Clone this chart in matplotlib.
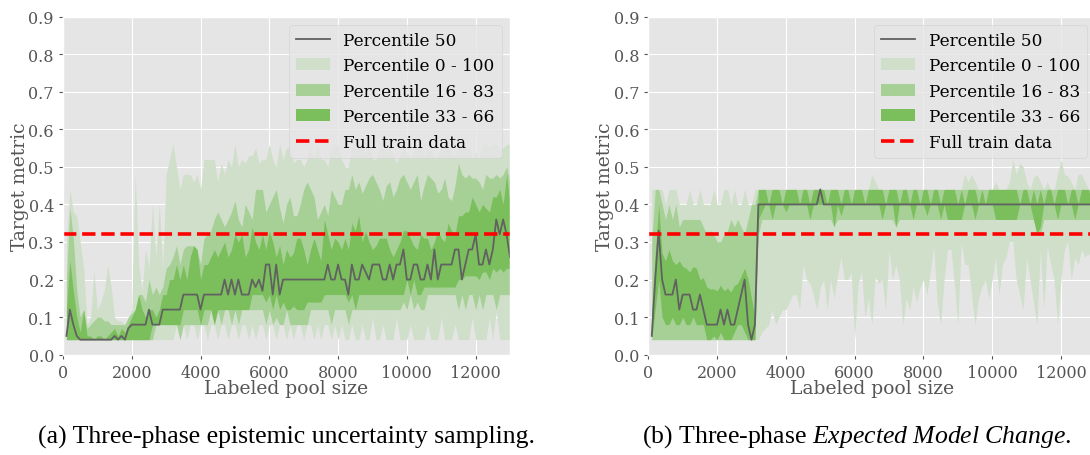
import numpy as np
import matplotlib
matplotlib.use("Agg")
import matplotlib.pyplot as plt

# ---------------- data ----------------
pool_size = np.arange(100, 13001, 100)
train_full = 0.32

# panel (a) three-phase epistemic uncertainty sampling
a_p50 = [0.05,0.12,0.08,0.05,0.04,0.04,0.04,0.04,0.04,0.04,
         0.04,0.04,0.04,0.04,0.05,0.04,0.05,0.04,0.07,0.08,
         0.08,0.08,0.08,0.08,0.12,0.08,0.08,0.08,0.12,0.12,
         0.12,0.12,0.12,0.12,0.16,0.16,0.16,0.16,0.16,0.12,
         0.16,0.16,0.16,0.16,0.16,0.16,0.20,0.16,0.20,0.16,
         0.20,0.16,0.16,0.16,0.20,0.18,0.20,0.17,0.24,0.24,
         0.16,0.24,0.16,0.20,0.20,0.20,0.20,0.20,0.20,0.20,
         0.20,0.20,0.20,0.20,0.20,0.20,0.24,0.20,0.20,0.24,
         0.20,0.20,0.16,0.24,0.20,0.20,0.24,0.22,0.20,0.24,
         0.24,0.24,0.20,0.20,0.24,0.20,0.24,0.24,0.28,0.20,
         0.20,0.24,0.24,0.20,0.20,0.24,0.20,0.28,0.20,0.24,
         0.24,0.24,0.24,0.28,0.28,0.20,0.24,0.28,0.28,0.32,
         0.24,0.24,0.28,0.24,0.28,0.36,0.32,0.36,0.32,0.26]
a_p0 = [0.04,0.04,0.04,0.04,0.04,0.04,0.04,0.04,0.04,0.04,
        0.04,0.04,0.04,0.04,0.04,0.04,0.04,0.04,0.04,0.04,
        0.04,0.04,0.04,0.04,0.04,0.04,0.04,0.04,0.04,0.04,
        0.04,0.04,0.08,0.04,0.08,0.04,0.08,0.08,0.04,0.08,
        0.08,0.04,0.08,0.08,0.04,0.08,0.08,0.04,0.08,0.08,
        0.04,0.08,0.08,0.04,0.08,0.04,0.08,0.08,0.04,0.08,
        0.08,0.04,0.08,0.08,0.04,0.08,0.04,0.08,0.08,0.04,
        0.08,0.08,0.04,0.08,0.04,0.08,0.08,0.04,0.08,0.04,
        0.08,0.04,0.04,0.08,0.04,0.04,0.08,0.04,0.04,0.10,
        0.04,0.04,0.08,0.04,0.04,0.04,0.10,0.04,0.04,0.04,
        0.08,0.04,0.04,0.04,0.04,0.08,0.04,0.04,0.04,0.10,
        0.04,0.04,0.04,0.08,0.04,0.04,0.04,0.04,0.10,0.04,
        0.04,0.04,0.04,0.10,0.04,0.12,0.04,0.04,0.04,0.04]
a_p16 = [0.04,0.04,0.04,0.04,0.04,0.04,0.04,0.04,0.04,0.04,
         0.04,0.04,0.04,0.04,0.04,0.04,0.04,0.04,0.04,0.04,
         0.04,0.04,0.04,0.04,0.04,0.04,0.08,0.08,0.08,0.08,
         0.08,0.08,0.08,0.04,0.08,0.08,0.08,0.08,0.08,0.08,
         0.08,0.08,0.12,0.08,0.12,0.08,0.12,0.12,0.08,0.12,
         0.08,0.12,0.12,0.12,0.12,0.12,0.12,0.12,0.08,0.12,
         0.08,0.10,0.08,0.08,0.12,0.08,0.08,0.08,0.08,0.08,
         0.08,0.12,0.12,0.12,0.12,0.12,0.12,0.08,0.12,0.12,
         0.12,0.12,0.08,0.12,0.12,0.12,0.12,0.12,0.12,0.12,
         0.12,0.12,0.12,0.12,0.12,0.12,0.12,0.12,0.14,0.12,
         0.16,0.12,0.14,0.12,0.12,0.16,0.16,0.16,0.16,0.16,
         0.16,0.16,0.16,0.16,0.12,0.16,0.12,0.16,0.16,0.12,
         0.16,0.12,0.16,0.16,0.16,0.12,0.16,0.16,0.16,0.16]
a_p33 = [0.04,0.04,0.04,0.04,0.04,0.04,0.04,0.04,0.04,0.04,
         0.04,0.04,0.04,0.04,0.04,0.04,0.04,0.04,0.04,0.04,
         0.04,0.04,0.04,0.04,0.04,0.08,0.08,0.08,0.08,0.08,
         0.08,0.08,0.08,0.08,0.12,0.12,0.12,0.12,0.12,0.08,
         0.12,0.12,0.12,0.08,0.12,0.12,0.12,0.12,0.12,0.12,
         0.12,0.12,0.12,0.12,0.16,0.16,0.16,0.16,0.14,0.16,
         0.12,0.16,0.12,0.14,0.12,0.12,0.13,0.12,0.12,0.12,
         0.14,0.14,0.14,0.14,0.14,0.16,0.16,0.16,0.16,0.16,
         0.16,0.16,0.14,0.16,0.12,0.16,0.16,0.16,0.16,0.16,
         0.16,0.16,0.16,0.16,0.16,0.16,0.16,0.16,0.16,0.20,
         0.16,0.20,0.16,0.16,0.18,0.18,0.18,0.18,0.18,0.18,
         0.18,0.18,0.18,0.18,0.20,0.20,0.21,0.21,0.21,0.21,
         0.20,0.22,0.22,0.20,0.23,0.22,0.23,0.22,0.23,0.23]
a_p66 = [0.12,0.25,0.17,0.10,0.06,0.12,0.05,0.05,0.04,0.05,
         0.05,0.04,0.05,0.06,0.07,0.05,0.07,0.06,0.08,0.10,
         0.12,0.16,0.12,0.10,0.12,0.12,0.10,0.12,0.16,0.16,
         0.20,0.20,0.24,0.20,0.24,0.20,0.26,0.29,0.28,0.20,
         0.24,0.24,0.26,0.28,0.26,0.28,0.30,0.26,0.28,0.32,
         0.30,0.32,0.26,0.28,0.34,0.30,0.28,0.32,0.28,0.33,
         0.30,0.26,0.29,0.24,0.28,0.26,0.27,0.31,0.31,0.28,
         0.24,0.28,0.31,0.28,0.25,0.36,0.32,0.28,0.31,0.30,
         0.28,0.31,0.28,0.35,0.33,0.37,0.30,0.33,0.30,0.28,
         0.29,0.31,0.31,0.31,0.28,0.26,0.28,0.30,0.33,0.33,
         0.31,0.29,0.28,0.32,0.31,0.31,0.28,0.30,0.33,0.31,
         0.30,0.35,0.33,0.32,0.37,0.37,0.38,0.38,0.42,0.40,
         0.38,0.40,0.39,0.38,0.42,0.42,0.44,0.40,0.48,0.40]
a_p83 = [0.20,0.39,0.31,0.17,0.10,0.12,0.07,0.08,0.09,0.10,
         0.10,0.09,0.09,0.08,0.08,0.08,0.08,0.08,0.10,0.11,
         0.12,0.16,0.16,0.14,0.20,0.16,0.18,0.16,0.18,0.23,
         0.24,0.26,0.29,0.24,0.28,0.29,0.29,0.29,0.28,0.24,
         0.31,0.32,0.33,0.36,0.38,0.36,0.34,0.36,0.38,0.41,
         0.36,0.34,0.40,0.38,0.36,0.44,0.44,0.44,0.38,0.40,
         0.42,0.44,0.39,0.35,0.40,0.42,0.37,0.37,0.40,0.44,
         0.46,0.44,0.42,0.36,0.38,0.40,0.37,0.44,0.42,0.40,
         0.40,0.44,0.44,0.48,0.44,0.46,0.43,0.45,0.47,0.48,
         0.46,0.44,0.41,0.45,0.46,0.42,0.44,0.47,0.48,0.46,
         0.44,0.46,0.48,0.41,0.45,0.48,0.47,0.46,0.43,0.44,
         0.47,0.42,0.41,0.45,0.51,0.48,0.47,0.48,0.47,0.47,
         0.46,0.44,0.48,0.47,0.47,0.48,0.47,0.48,0.50,0.46]
a_p100 = [0.30,0.44,0.38,0.37,0.30,0.23,0.08,0.10,0.22,0.12,
          0.14,0.17,0.24,0.18,0.10,0.09,0.09,0.08,0.10,0.12,
          0.48,0.24,0.17,0.28,0.23,0.40,0.26,0.40,0.23,0.48,
          0.52,0.56,0.50,0.44,0.48,0.48,0.48,0.46,0.48,0.44,
          0.52,0.52,0.52,0.52,0.46,0.51,0.48,0.52,0.50,0.56,
          0.50,0.52,0.51,0.53,0.53,0.55,0.51,0.52,0.52,0.56,
          0.52,0.50,0.56,0.52,0.55,0.55,0.51,0.52,0.52,0.50,
          0.52,0.55,0.52,0.56,0.52,0.52,0.50,0.55,0.56,0.56,
          0.52,0.50,0.50,0.55,0.55,0.56,0.55,0.53,0.56,0.52,
          0.52,0.55,0.55,0.54,0.56,0.53,0.51,0.53,0.55,0.54,
          0.52,0.54,0.56,0.55,0.53,0.55,0.55,0.52,0.53,0.55,
          0.56,0.56,0.54,0.53,0.55,0.56,0.55,0.55,0.52,0.54,
          0.52,0.56,0.56,0.55,0.56,0.56,0.55,0.55,0.56,0.56]

# panel (b) three-phase Expected Model Change
b_p50 = [0.05,0.20,0.33,0.20,0.16,0.16,0.16,0.20,0.12,0.16,
         0.16,0.16,0.12,0.12,0.16,0.12,0.08,0.08,0.08,0.08,
         0.12,0.08,0.12,0.08,0.08,0.12,0.16,0.20,0.08,0.04,
         0.08,0.40,0.40,0.40,0.40,0.40,0.40,0.40,0.40,0.40,
         0.40,0.40,0.40,0.40,0.40,0.40,0.40,0.40,0.40,0.44,
         0.40,0.40,0.40,0.40,0.40,0.40,0.40,0.40,0.40,0.40,
         0.40,0.40,0.40,0.40,0.40,0.40,0.40,0.40,0.40,0.40,
         0.40,0.40,0.40,0.40,0.40,0.40,0.40,0.40,0.40,0.40,
         0.40,0.40,0.40,0.40,0.40,0.40,0.40,0.40,0.40,0.40,
         0.40,0.40,0.40,0.40,0.40,0.40,0.40,0.40,0.40,0.40,
         0.40,0.40,0.40,0.40,0.40,0.40,0.40,0.40,0.40,0.40,
         0.40,0.40,0.40,0.40,0.40,0.40,0.40,0.40,0.40,0.40,
         0.40,0.40,0.40,0.40,0.40,0.40,0.40,0.40,0.40,0.40]
b_p0 = [0.04,0.04,0.04,0.04,0.04,0.04,0.04,0.04,0.04,0.04,
        0.04,0.04,0.04,0.04,0.04,0.04,0.04,0.04,0.04,0.04,
        0.04,0.04,0.04,0.04,0.04,0.04,0.04,0.04,0.04,0.04,
        0.04,0.04,0.06,0.07,0.08,0.12,0.08,0.10,0.12,0.12,
        0.14,0.16,0.16,0.12,0.24,0.20,0.19,0.16,0.12,0.18,
        0.20,0.12,0.20,0.15,0.21,0.26,0.20,0.20,0.22,0.04,
        0.19,0.22,0.10,0.15,0.08,0.21,0.19,0.20,0.12,0.28,
        0.20,0.24,0.20,0.08,0.15,0.12,0.18,0.14,0.18,0.20,
        0.16,0.22,0.29,0.14,0.08,0.20,0.28,0.28,0.19,0.08,
        0.30,0.24,0.24,0.16,0.08,0.15,0.18,0.20,0.15,0.20,
        0.26,0.16,0.24,0.26,0.30,0.30,0.20,0.16,0.12,0.26,
        0.20,0.14,0.08,0.28,0.12,0.29,0.24,0.20,0.08,0.20,
        0.28,0.30,0.20,0.26,0.24,0.28,0.26,0.27,0.25,0.27]
b_p16 = [0.04,0.04,0.04,0.04,0.04,0.04,0.04,0.04,0.04,0.04,
         0.04,0.04,0.04,0.04,0.04,0.04,0.04,0.04,0.04,0.04,
         0.04,0.04,0.04,0.04,0.04,0.04,0.04,0.04,0.04,0.04,
         0.04,0.32,0.36,0.36,0.36,0.36,0.36,0.36,0.36,0.36,
         0.36,0.36,0.36,0.36,0.36,0.36,0.36,0.36,0.36,0.36,
         0.36,0.36,0.36,0.34,0.36,0.36,0.36,0.36,0.36,0.36,
         0.36,0.36,0.36,0.36,0.36,0.36,0.36,0.36,0.36,0.36,
         0.36,0.34,0.36,0.36,0.36,0.36,0.36,0.36,0.36,0.36,
         0.36,0.36,0.36,0.36,0.36,0.36,0.36,0.36,0.36,0.36,
         0.36,0.36,0.36,0.36,0.36,0.36,0.36,0.36,0.36,0.36,
         0.36,0.36,0.36,0.36,0.36,0.36,0.36,0.36,0.36,0.36,
         0.36,0.36,0.34,0.32,0.36,0.36,0.36,0.36,0.36,0.36,
         0.36,0.36,0.36,0.36,0.36,0.36,0.36,0.36,0.36,0.36]
b_p33 = [0.04,0.12,0.20,0.10,0.08,0.08,0.10,0.08,0.08,0.10,
         0.08,0.08,0.10,0.08,0.08,0.08,0.04,0.04,0.05,0.04,
         0.06,0.04,0.04,0.04,0.06,0.08,0.08,0.06,0.04,0.04,
         0.04,0.36,0.38,0.40,0.40,0.36,0.40,0.40,0.40,0.38,
         0.40,0.40,0.40,0.40,0.40,0.40,0.36,0.40,0.40,0.40,
         0.40,0.40,0.40,0.34,0.40,0.37,0.40,0.40,0.40,0.40,
         0.40,0.40,0.40,0.40,0.40,0.40,0.40,0.36,0.40,0.40,
         0.40,0.34,0.40,0.40,0.40,0.40,0.36,0.40,0.40,0.40,
         0.37,0.40,0.40,0.40,0.36,0.40,0.36,0.36,0.36,0.36,
         0.36,0.40,0.40,0.40,0.36,0.40,0.40,0.40,0.40,0.40,
         0.36,0.36,0.36,0.36,0.36,0.36,0.36,0.40,0.40,0.40,
         0.40,0.36,0.32,0.34,0.40,0.40,0.40,0.40,0.36,0.40,
         0.40,0.40,0.40,0.36,0.40,0.40,0.40,0.40,0.40,0.40]
b_p66 = [0.12,0.27,0.40,0.27,0.25,0.28,0.25,0.24,0.25,0.235,
         0.23,0.22,0.235,0.23,0.20,0.205,0.18,0.175,0.175,0.17,
         0.185,0.17,0.178,0.167,0.184,0.19,0.21,0.23,0.20,0.15,
         0.10,0.44,0.44,0.44,0.40,0.44,0.44,0.44,0.40,0.44,
         0.44,0.44,0.44,0.40,0.44,0.44,0.40,0.44,0.44,0.44,
         0.44,0.40,0.44,0.44,0.44,0.40,0.44,0.44,0.40,0.44,
         0.44,0.44,0.40,0.44,0.44,0.44,0.44,0.44,0.40,0.44,
         0.44,0.44,0.40,0.44,0.44,0.40,0.44,0.44,0.40,0.44,
         0.44,0.40,0.44,0.44,0.40,0.44,0.44,0.44,0.44,0.40,
         0.44,0.40,0.44,0.44,0.44,0.40,0.44,0.40,0.44,0.44,
         0.44,0.44,0.44,0.44,0.44,0.44,0.44,0.40,0.44,0.44,
         0.40,0.44,0.40,0.44,0.40,0.44,0.44,0.40,0.44,0.44,
         0.44,0.40,0.44,0.44,0.40,0.44,0.44,0.44,0.40,0.44]
b_p83 = [0.30,0.44,0.44,0.40,0.36,0.40,0.36,0.40,0.34,0.36,
         0.36,0.36,0.36,0.36,0.36,0.34,0.32,0.33,0.32,0.30,
         0.30,0.32,0.33,0.36,0.34,0.36,0.34,0.32,0.36,0.40,
         0.40,0.44,0.44,0.44,0.44,0.44,0.44,0.44,0.44,0.44,
         0.44,0.44,0.44,0.44,0.44,0.44,0.44,0.44,0.44,0.44,
         0.44,0.44,0.44,0.44,0.44,0.44,0.44,0.44,0.44,0.44,
         0.44,0.44,0.44,0.44,0.44,0.44,0.44,0.44,0.44,0.44,
         0.44,0.44,0.44,0.44,0.44,0.44,0.44,0.44,0.44,0.44,
         0.44,0.44,0.44,0.44,0.44,0.44,0.44,0.44,0.44,0.44,
         0.44,0.44,0.44,0.44,0.44,0.44,0.44,0.44,0.44,0.44,
         0.44,0.44,0.44,0.44,0.44,0.44,0.44,0.44,0.44,0.44,
         0.44,0.44,0.44,0.44,0.44,0.44,0.44,0.44,0.44,0.44,
         0.44,0.44,0.44,0.44,0.44,0.44,0.44,0.44,0.44,0.44]
b_p100 = [0.44,0.44,0.44,0.44,0.40,0.44,0.44,0.44,0.40,0.40,
          0.40,0.44,0.40,0.40,0.44,0.40,0.40,0.40,0.44,0.40,
          0.40,0.44,0.44,0.40,0.44,0.40,0.40,0.44,0.40,0.40,
          0.44,0.44,0.44,0.44,0.44,0.44,0.44,0.44,0.44,0.44,
          0.44,0.44,0.44,0.44,0.44,0.44,0.44,0.44,0.44,0.44,
          0.44,0.44,0.44,0.44,0.44,0.44,0.44,0.44,0.44,0.44,
          0.44,0.44,0.44,0.44,0.48,0.46,0.44,0.44,0.44,0.44,
          0.44,0.44,0.44,0.44,0.44,0.44,0.44,0.44,0.44,0.44,
          0.44,0.44,0.44,0.44,0.44,0.44,0.44,0.44,0.44,0.44,
          0.44,0.48,0.46,0.48,0.46,0.44,0.44,0.44,0.44,0.44,
          0.46,0.44,0.44,0.44,0.46,0.52,0.48,0.51,0.50,0.46,
          0.44,0.47,0.48,0.46,0.44,0.46,0.44,0.44,0.48,0.52,
          0.48,0.475,0.46,0.44,0.48,0.48,0.46,0.44,0.44,0.44]

x_ticks = [0, 2000, 4000, 6000, 8000, 10000, 12000]
y_ticks = [0.0, 0.1, 0.2, 0.3, 0.4, 0.5, 0.6, 0.7, 0.8, 0.9]
captions = ["(a) Three-phase epistemic uncertainty sampling.",
            r"(b) Three-phase $\mathit{Expected\ Model\ Change}$."]

# ---------------- style ----------------
plt.style.use("ggplot")
plt.rcParams["font.family"] = ["DejaVu Serif"]
plt.rcParams["mathtext.fontset"] = "custom"
plt.rcParams["mathtext.it"] = "Liberation Serif:italic"
plt.rcParams["mathtext.rm"] = "Liberation Serif"

C_LIGHT = "#cfdfca"
C_MID = "#a6d096"
C_DARK = "#7bbf5c"
C_MED = "#616161"

fig = plt.figure(figsize=(10.9, 4.56), dpi=100)
ax_pos = [[0.0578, 0.22, 0.4101, 0.7414],
          [0.5948, 0.22, 0.4101, 0.7414]]
panels = [(a_p0, a_p16, a_p33, a_p50, a_p66, a_p83, a_p100),
          (b_p0, b_p16, b_p33, b_p50, b_p66, b_p83, b_p100)]

for pos, (p0, p16, p33, p50, p66, p83, p100) in zip(ax_pos, panels):
    ax = fig.add_axes(pos)
    ax.fill_between(pool_size, p0, p100, color=C_LIGHT, lw=0,
                    label="Percentile 0 - 100")
    ax.fill_between(pool_size, p16, p83, color=C_MID, lw=0,
                    label="Percentile 16 - 83")
    ax.fill_between(pool_size, p33, p66, color=C_DARK, lw=0,
                    label="Percentile 33 - 66")
    ax.plot(pool_size, p50, color=C_MED, lw=1.3, label="Percentile 50")
    ax.axhline(train_full, color="red", ls="--", lw=2.6,
               label="Full train data")
    ax.set_xlim(0, 13000)
    ax.set_ylim(0, 0.9)
    ax.set_xticks(x_ticks)
    ax.set_yticks(y_ticks)
    ax.set_yticklabels([f"{v:.1f}" for v in y_ticks])
    ax.tick_params(labelsize=11.5, colors="#555555", length=3)
    ax.set_xlabel("Labeled pool size", fontsize=13.5, color="#555555")
    ax.set_ylabel("Target metric", fontsize=13.5, color="#555555")
    ax.yaxis.set_label_coords(-0.077, 0.5)
    ax.xaxis.set_label_coords(0.5, -0.073)
    h, l = ax.get_legend_handles_labels()
    order = [l.index(s) for s in ["Percentile 50", "Percentile 0 - 100",
                                   "Percentile 16 - 83", "Percentile 33 - 66",
                                   "Full train data"]]
    ax.legend([h[i] for i in order], [l[i] for i in order],
              loc="upper right", fontsize=12.2, framealpha=0.8,
              edgecolor="#d0d0d0", facecolor="#e5e5e5")

fig.text(287 / 1090, 1 - 437 / 456, captions[0], ha="center", va="center",
         fontsize=18.5, family="Liberation Serif")
fig.text(857 / 1090, 1 - 437 / 456, captions[1], ha="center", va="center",
         fontsize=18.5, family="Liberation Serif")

fig.savefig("out.png", dpi=100)
